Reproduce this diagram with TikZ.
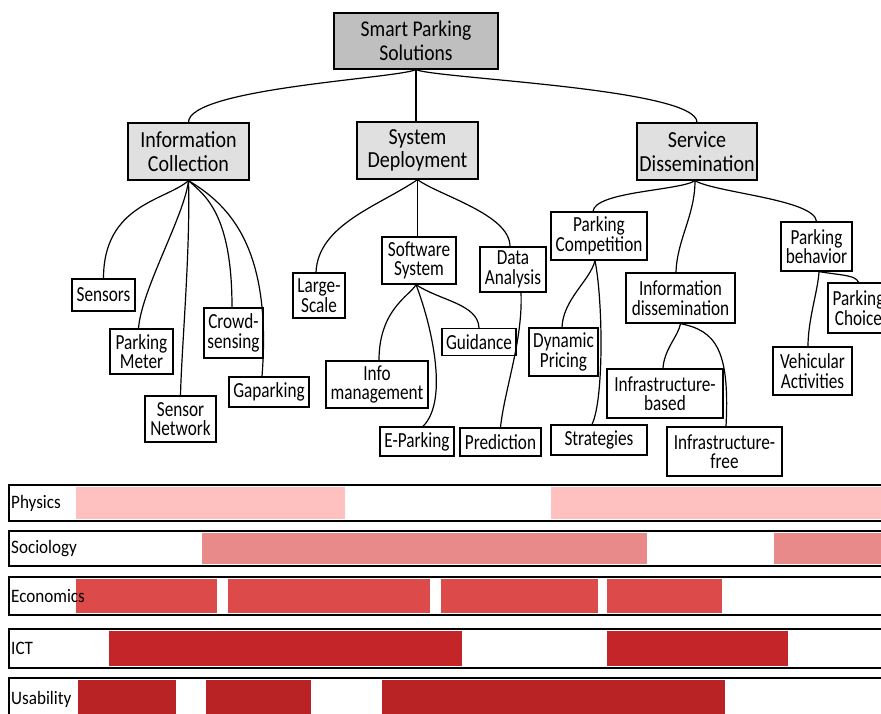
\documentclass[tikz,border=0pt]{standalone}
\usepackage{fontspec}
\setmainfont{Carlito}
\newfontfamily\leaffont{Carlito}[FakeStretch=0.8]
\newfontfamily\headfont{Carlito}[FakeStretch=0.87]
\newfontfamily\bandfont{Carlito}[FakeStretch=0.9]
\definecolor{rootgray}{HTML}{BFBFBF}
\definecolor{midgray}{HTML}{E0E0E0}
\definecolor{physc}{HTML}{FFC0C0}
\definecolor{socic}{HTML}{E88A8A}
\definecolor{econc}{HTML}{DD4A4A}
\definecolor{ictc}{HTML}{C32528}
\definecolor{usec}{HTML}{BA2326}
\begin{document}
\begin{tikzpicture}[x=1pt,y=-1pt,
  bx/.style 2 args={minimum width=#1pt, minimum height=#2pt},
  leaf/.style={draw=black, line width=1.3pt, fill=white, inner sep=1pt, align=center,
    font=\leaffont\fontsize{21.5}{19.5}\selectfont},
  branch/.style={leaf, fill=midgray, font=\headfont\fontsize{23}{23.5}\selectfont},
  topbox/.style={leaf, fill=rootgray, font=\headfont\fontsize{22.5}{24.5}\selectfont},
  link/.style={line width=1.2pt, black},
  band/.style={draw=black, line width=1.8pt},
  bandlabel/.style={anchor=west, inner sep=0pt, font=\bandfont\fontsize{19}{20}\selectfont}
]
\useasboundingbox (0,0) rectangle (881,713);

% ---- tree ----
\node[topbox, bx={164}{56}] (root) at (416,41) {Smart Parking\\Solutions};
\node[branch, bx={121}{57}] (ic) at (188.5,151.5) {Information\\Collection};
\node[branch, bx={121}{57}] (sd) at (417.5,150.5) {System\\Deployment};
\node[branch, bx={120}{57}] (sv) at (697,151.5) {Service\\Dissemination};

% Information Collection
\node[leaf, bx={63}{32}] (sensors) at (103.5,295) {Sensors};
\node[leaf, bx={63}{45}] (pmeter) at (141.5,351.5) {Parking\\Meter};
\node[leaf, bx={59}{50}] (crowd) at (233.5,333) {Crowd-\\sensing};
\node[leaf, bx={71}{46}] (snet) at (180.5,419) {Sensor\\Network};
\node[leaf, bx={80}{30}] (gap) at (269,392) {Gaparking};

% System Deployment
\node[leaf, bx={52}{45}] (large) at (319,295.5) {Large-\\Scale};
\node[leaf, bx={74}{47}] (soft) at (419,260.5) {Software\\System};
\node[leaf, bx={66}{45}] (data) at (513,269.5) {Data\\Analysis};
\node[leaf, bx={74}{27}] (guid) at (479,342) {Guidance};
\node[leaf, bx={102}{47}] (infom) at (377,384.5) {Info\\management};
\node[leaf, bx={74}{29}] (epark) at (417,441.5) {E-Parking};
\node[leaf, bx={81}{28}] (pred) at (500.5,442) {Prediction};

% Service Dissemination
\node[leaf, bx={96}{48}] (pcomp) at (599,236) {Parking\\Competition};
\node[leaf, bx={69}{48}] (dyn) at (563.5,352) {Dynamic\\Pricing};
\node[leaf, bx={96}{30}] (strat) at (599,440) {Strategies};
\node[leaf, bx={109}{50}] (infod) at (680.5,298) {Information\\dissemination};
\node[leaf, bx={116}{49}] (infb) at (665,393.5) {Infrastructure-\\based};
\node[leaf, bx={115}{49}] (inff) at (724.5,451.5) {Infrastructure-\\free};
\node[leaf, bx={71}{49}] (pbeh) at (816.5,246.5) {Parking\\behavior};
\node[leaf, bx={61}{50}] (pchoice) at (858.5,308) {Parking\\Choice};
\node[leaf, bx={79}{48}] (vehic) at (812.5,371) {Vehicular\\Activities};

% ---- connectors ----
\draw[link] (root.south) .. controls +(-21,9) and +(0,-34) .. (ic.north);
\draw[link] (root.south) -- (sd.north -| root.south);
\draw[link] (root.south) .. controls +(21,9) and +(0,-34) .. (sv.north);

\draw[link] (ic.south) .. controls +(-23,20) and +(0,-74) .. (sensors.north);
\draw[link] (ic.south) .. controls +(-4,35) and +(3,-39) .. ([xshift=-3pt]pmeter.north);
\draw[link] (ic.south) .. controls +(2,70) and +(1,-46) .. (snet.north);
\draw[link] (ic.south) .. controls +(17,15) and +(0,-93) .. ([xshift=-1.5pt]crowd.north);
\draw[link] (ic.south) .. controls +(42,25) and +(10,-127) .. ([xshift=-7pt]gap.north);

\draw[link] (sd.south) .. controls +(-38,26) and +(2,-48) .. ([xshift=-3pt]large.north);
\draw[link] (sd.south) -- (soft.north -| sd.south);
\draw[link] (sd.south) .. controls +(22,16) and +(0,-32) .. ([xshift=-3pt]data.north);

\draw[link] ([xshift=-3pt]soft.south) .. controls +(-6,11) and +(0,-51) .. ([xshift=2pt]infom.north);
\draw[link] ([xshift=-3pt]soft.south) .. controls +(14,36) and +(27,-27) .. ([xshift=6pt]epark.north);
\draw[link] ([xshift=-3pt]soft.south) .. controls +(24,16) and +(-1,-24) .. (guid.north);
\draw[link] ([xshift=8pt]data.south) .. controls +(2,48) and +(4,-38) .. (pred.north);

\draw[link] ([xshift=-2pt]sv.south) .. controls +(-15,10) and +(2,-20) .. ([xshift=-6pt]pcomp.north);
\draw[link] ([xshift=-2pt]sv.south) .. controls +(0,35) and +(1,-33) .. ([xshift=-4.5pt]infod.north);
\draw[link] ([xshift=-2pt]sv.south) .. controls +(20,12) and +(-2,-22) .. (pbeh.north);

\draw[link] ([xshift=-4pt]pcomp.south) .. controls +(-5,20) and +(1,-28) .. ([xshift=-1.5pt]dyn.north);
\draw[link] ([xshift=-4pt]pcomp.south) .. controls +(8,40) and +(12,-25) .. ([xshift=-7pt]strat.north);
\draw[link] (infod.south) .. controls +(-2,12) and +(1,-19) .. ([xshift=-2pt]infb.north);
\draw[link] (infod.south) .. controls +(35,7) and +(4,-77) .. ([xshift=1.5pt]inff.north);
\draw[link] ([xshift=2.5pt]pbeh.south) .. controls +(26,4) and +(-3,-7) .. (pchoice.north);
\draw[link] ([xshift=2.5pt]pbeh.south) .. controls +(-1,19) and +(0,-27) .. ([xshift=-4.5pt]vehic.north);

% ---- discipline bands ----
% Physics
\fill[physc] (76,487) rectangle (345,519);
\fill[physc] (551,487) rectangle (895,519);
\draw[band] (9,485) rectangle (895,521);
\node[bandlabel] (lphys) at (11,503) {Physics};
% Sociology
\fill[socic] (202,533) rectangle (647,564);
\fill[socic] (774,533) rectangle (895,564);
\draw[band] (9,531) rectangle (895,566);
\node[bandlabel] (lsoc) at (11,548.5) {Sociology};
% Economics
\fill[econc] (76,579) rectangle (217,613);
\fill[econc] (228,579) rectangle (430,613);
\fill[econc] (441,579) rectangle (598,613);
\fill[econc] (607,579) rectangle (722,613);
\draw[band] (9,577) rectangle (895,615);
\node[bandlabel] (leco) at (11,596) {Economics};
% ICT
\fill[ictc] (109,631) rectangle (462,666);
\fill[ictc] (607,631) rectangle (788,666);
\draw[band] (9,629) rectangle (895,668);
\node[bandlabel] (lict) at (11,648.5) {ICT};
% Usability
\fill[usec] (78,680) rectangle (176,730);
\fill[usec] (206,680) rectangle (311,730);
\fill[usec] (382,680) rectangle (725,730);
\draw[band] (9,678) rectangle (895,732);
\node[bandlabel] (luse) at (11,699) {Usability};
\end{tikzpicture}
\end{document}
